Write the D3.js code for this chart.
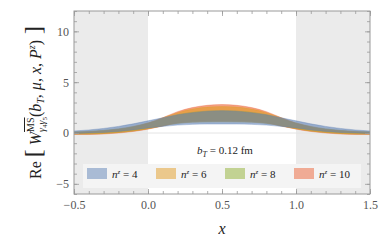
<!DOCTYPE html>
<html>
<head>
<meta charset="utf-8">
<script src="https://cdn.jsdelivr.net/npm/d3@7"></script>
<style>
  body { margin: 0; background: #fff; }
  svg { display: block; font-family: "Liberation Serif", "DejaVu Serif", serif; }
</style>
</head>
<body>
<div id="chart"></div>
<script>
// x grid of the bands
let xs = [-0.5, -0.4, -0.3, -0.2, -0.1, 0.0, 0.1, 0.2, 0.3, 0.4, 0.5, 0.6, 0.7, 0.8, 0.9, 1.0, 1.1, 1.2, 1.3, 1.4, 1.5];

let nz = [4, 6, 8, 10];
let colors = ['#5e81b5', '#e19c24', '#8fb032', '#eb6235'];

let lo4 = [-0.05, 0.0, 0.05, 0.15, 0.3, 0.5, 0.65, 0.78, 0.85, 0.88, 0.88, 0.88, 0.85, 0.78, 0.65, 0.5, 0.3, 0.15, 0.05, 0.0, -0.05];
let hi4 = [0.2, 0.3, 0.45, 0.65, 0.9, 1.2, 1.5, 1.8, 2.0, 2.15, 2.2, 2.15, 2.0, 1.8, 1.5, 1.2, 0.9, 0.65, 0.45, 0.3, 0.2];
let lo6 = [-0.1, -0.1, -0.05, 0.05, 0.2, 0.42, 0.7, 0.95, 1.05, 1.1, 1.1, 1.1, 1.05, 0.95, 0.7, 0.42, 0.2, 0.05, -0.05, -0.1, -0.1];
let hi6 = [0.1, 0.15, 0.25, 0.4, 0.65, 1.0, 1.5, 2.0, 2.35, 2.55, 2.6, 2.55, 2.35, 2.0, 1.5, 1.0, 0.65, 0.4, 0.25, 0.15, 0.1];
let lo8 = [-0.1, -0.08, -0.03, 0.07, 0.22, 0.45, 0.72, 0.95, 1.07, 1.1, 1.12, 1.1, 1.07, 0.95, 0.72, 0.45, 0.22, 0.07, -0.03, -0.08, -0.1];
let hi8 = [0.1, 0.15, 0.25, 0.4, 0.62, 0.95, 1.4, 1.8, 2.05, 2.17, 2.2, 2.17, 2.05, 1.8, 1.4, 0.95, 0.62, 0.4, 0.25, 0.15, 0.1];
let lo10 = [-0.15, -0.15, -0.1, 0.0, 0.15, 0.38, 0.7, 1.0, 1.15, 1.2, 1.22, 1.2, 1.15, 1.0, 0.7, 0.38, 0.15, 0.0, -0.1, -0.15, -0.15];
let hi10 = [0.05, 0.1, 0.2, 0.35, 0.6, 0.95, 1.5, 2.1, 2.5, 2.72, 2.8, 2.72, 2.5, 2.1, 1.5, 0.95, 0.6, 0.35, 0.2, 0.1, 0.05];

let xTicks = [-0.5, 0.0, 0.5, 1.0, 1.5];
let yTicks = [-5, 0, 5, 10];

let lows = [lo4, lo6, lo8, lo10];
let highs = [hi4, hi6, hi8, hi10];

let svgWidth = 382;
let svgHeight = 243;
let margin = { top: 11, right: 12, bottom: 49, left: 74 };
let width = svgWidth - margin.left - margin.right;
let height = svgHeight - margin.top - margin.bottom;

let svg = d3.select('#chart')
    .append('svg')
    .attr('width', svgWidth)
    .attr('height', svgHeight);

let chartGroup = svg.append('g')
    .attr('transform', `translate(${margin.left}, ${margin.top})`);

let xScale = d3.scaleLinear().domain([-0.5, 1.5]).range([0, width]);
let yScale = d3.scaleLinear().domain([-6, 12]).range([height, 0]);

// shaded regions outside 0 < x < 1
chartGroup.append('rect')
    .attr('x', 0).attr('y', 0)
    .attr('width', xScale(0) - xScale(-0.5)).attr('height', height)
    .attr('fill', '#ebebeb');
chartGroup.append('rect')
    .attr('x', xScale(1)).attr('y', 0)
    .attr('width', xScale(1.5) - xScale(1)).attr('height', height)
    .attr('fill', '#ebebeb');

chartGroup.append('line')
    .attr('x1', 0).attr('x2', width)
    .attr('y1', yScale(0)).attr('y2', yScale(0))
    .attr('stroke', '#e4e4e4').attr('stroke-width', 1);

// bands: n^z = 10, 8, 6, then 4 on top
let area = d3.area()
    .x(d => xScale(d.x))
    .y0(d => yScale(d.lo))
    .y1(d => yScale(d.hi))
    .curve(d3.curveMonotoneX);

let edge = d3.line()
    .x(d => xScale(d.x))
    .y(d => yScale(d.v))
    .curve(d3.curveMonotoneX);

let order = [3, 2, 1, 0];
order.forEach(i => {
    let pts = xs.map((x, j) => ({ x: x, lo: lows[i][j], hi: highs[i][j] }));
    chartGroup.append('path')
        .datum(pts)
        .attr('d', area)
        .attr('fill', colors[i])
        .attr('fill-opacity', 0.6);
    ['lo', 'hi'].forEach(k => {
        chartGroup.append('path')
            .datum(pts.map(p => ({ x: p.x, v: p[k] })))
            .attr('d', edge)
            .attr('fill', 'none')
            .attr('stroke', colors[i])
            .attr('stroke-opacity', 0.35)
            .attr('stroke-width', 1);
    });
});

// ticks on all four sides
let minorX = d3.range(-5, 16).map(d => d / 10);
let minorY = d3.range(-6, 13);

function frameTicks(axis, scale, ticks, minor) {
    let g = chartGroup.append('g');
    g.call(axis(scale).tickValues(minor).tickSize(3).tickFormat(''));
    let major = chartGroup.append('g');
    major.call(axis(scale).tickValues(ticks).tickSize(5).tickFormat(''));
    [g, major].forEach(s => {
        s.select('.domain').remove();
        s.selectAll('line').attr('stroke', '#9a9a9a').attr('stroke-width', 0.8);
    });
    return [g, major];
}

function styleLabels(g) {
    g.select('.domain').remove();
    g.selectAll('text').attr('fill', '#555').style('font-size', '12px')
        .style('font-family', '"Liberation Serif", "DejaVu Serif", serif');
}

let fmtX = d => d < 0 ? '\u2212' + Math.abs(d).toFixed(1) : d.toFixed(1);
let fmtY = d => d < 0 ? '\u2212' + Math.abs(d) : String(d);

frameTicks(d3.axisTop, xScale, xTicks, minorX)
    .forEach(g => g.attr('transform', `translate(0, ${height})`));
frameTicks(d3.axisBottom, xScale, xTicks, minorX);
frameTicks(d3.axisRight, yScale, yTicks, minorY);
frameTicks(d3.axisLeft, yScale, yTicks, minorY)
    .forEach(g => g.attr('transform', `translate(${width}, 0)`));

let bottomLabels = chartGroup.append('g')
    .attr('transform', `translate(0, ${height})`)
    .call(d3.axisBottom(xScale).tickValues(xTicks).tickSize(0).tickPadding(6).tickFormat(fmtX));
styleLabels(bottomLabels);

let leftLabels = chartGroup.append('g')
    .call(d3.axisLeft(yScale).tickValues(yTicks).tickSize(0).tickPadding(5).tickFormat(fmtY));
styleLabels(leftLabels);

chartGroup.append('rect')
    .attr('x', 0).attr('y', 0)
    .attr('width', width).attr('height', height)
    .attr('fill', 'none')
    .attr('stroke', '#9a9a9a').attr('stroke-width', 1);

// b_T annotation
let note = chartGroup.append('text')
    .attr('x', xScale(0.52)).attr('y', 143)
    .attr('text-anchor', 'middle')
    .style('font-size', '11px').attr('fill', '#222');
note.append('tspan').style('font-style', 'italic').text('b');
note.append('tspan').attr('dy', 3).style('font-size', '8px').style('font-style', 'italic').text('T');
note.append('tspan').attr('dy', -3).text(' = 0.12 fm');

// legend
let legend = chartGroup.append('g');
legend.append('rect')
    .attr('x', 9).attr('y', 153)
    .attr('width', 278).attr('height', 24)
    .attr('fill', '#f4f4f4');

nz.forEach((n, i) => {
    let lx = 13 + i * 69;
    legend.append('rect')
        .attr('x', lx).attr('y', 157)
        .attr('width', 20).attr('height', 11)
        .attr('fill', colors[i]).attr('fill-opacity', 0.5);
    let t = legend.append('text')
        .attr('x', lx + 25).attr('y', 167)
        .style('font-size', '11px').attr('fill', '#222');
    t.append('tspan').style('font-style', 'italic').text('n');
    t.append('tspan').attr('dy', -4).style('font-size', '7px').style('font-style', 'italic').text('z');
    t.append('tspan').attr('dy', 4).text(' = ' + n);
});

// axis titles
svg.append('text')
    .attr('x', margin.left + xScale(0.5)).attr('y', 234)
    .attr('text-anchor', 'middle')
    .style('font-size', '16px').style('font-style', 'italic')
    .attr('fill', '#222')
    .text('x');

let ylab = svg.append('text')
    .attr('transform', `translate(41, ${margin.top + height / 2}) rotate(-90)`)
    .attr('text-anchor', 'middle')
    .style('font-size', '16px').attr('fill', '#222');
ylab.append('tspan').text('Re ');
ylab.append('tspan').style('font-size', '24px').text('[');
ylab.append('tspan').style('font-style', 'italic').text(' W');
let ms = ylab.append('tspan').attr('dy', -7).style('font-size', '10px')
    .style('text-decoration', 'overline').text('MS');
let msLen = ms.node().getComputedTextLength();
ylab.append('tspan').attr('dx', -msLen).attr('dy', 11).style('font-size', '10px')
    .style('font-style', 'italic').text('γ');
ylab.append('tspan').attr('dy', 2).style('font-size', '7px').text('4');
ylab.append('tspan').attr('dy', -2).style('font-size', '10px').style('font-style', 'italic').text('γ');
ylab.append('tspan').attr('dy', 2).style('font-size', '7px').text('5');
ylab.append('tspan').attr('dy', -6).text('(');
ylab.append('tspan').style('font-style', 'italic').text('b');
ylab.append('tspan').attr('dy', 3).style('font-size', '10px').style('font-style', 'italic').text('T');
ylab.append('tspan').attr('dy', -3).text(', ');
ylab.append('tspan').style('font-style', 'italic').text('μ');
ylab.append('tspan').text(', ');
ylab.append('tspan').style('font-style', 'italic').text('x');
ylab.append('tspan').text(', ');
ylab.append('tspan').style('font-style', 'italic').text('P');
ylab.append('tspan').attr('dy', -6).style('font-size', '10px').style('font-style', 'italic').text('z');
ylab.append('tspan').attr('dy', 6).text(')');
ylab.append('tspan').style('font-size', '24px').text(' ]');
</script>
</body>
</html>
